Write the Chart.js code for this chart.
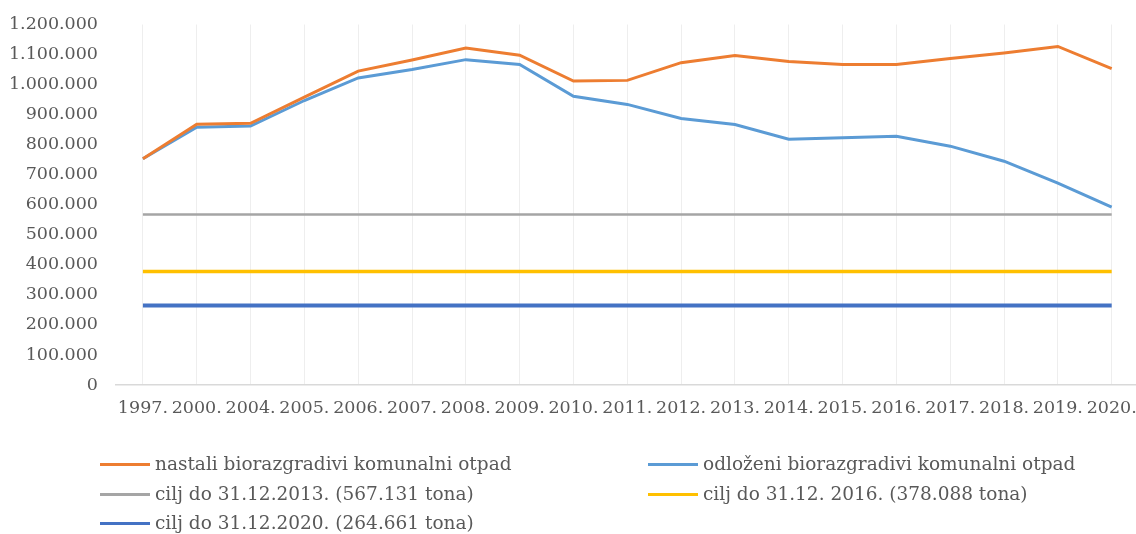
<!DOCTYPE html>
<html>
<head>
<meta charset="utf-8">
<script src="https://cdn.jsdelivr.net/npm/chart.js@4/dist/chart.umd.min.js"></script>
<style>
  body { margin: 0; background: #fff; overflow: hidden; width: 1136px; height: 534px; position: relative; }
  #wrap { position: absolute; left: 0; top: 4px; width: 1150px; height: 440px; }
  #legend { position: absolute; left: 0; top: 0; width: 1136px; height: 534px; pointer-events: none;
    font-family: "DejaVu Serif", serif; font-size: 18.5px; color: #595959; }
  .item { position: absolute; height: 22px; line-height: 22px; white-space: nowrap; }
  .item span.sw { position: absolute; left: 0; top: 10px; width: 50px; height: 3px; }
  .item span.tx { position: absolute; left: 55px; top: 0; }
</style>
</head>
<body>
<div id="wrap"><canvas id="myChart" width="1150" height="440"></canvas></div>
<div id="legend"></div>
<script>
var years = ['1997.', '2000.', '2004.', '2005.', '2006.', '2007.', '2008.', '2009.', '2010.', '2011.',
  '2012.', '2013.', '2014.', '2015.', '2016.', '2017.', '2018.', '2019.', '2020.'];

// nastali biorazgradivi komunalni otpad (tona)
var nastali = [753000, 868000, 871000, 958000, 1045000, 1082000, 1122000, 1098000, 1012000, 1014000,
  1073000, 1097000, 1077000, 1067000, 1067000, 1087000, 1105000, 1127000, 1053000];
// odlozeni biorazgradivi komunalni otpad (tona)
var odlozeni = [753000, 858000, 862000, 947000, 1022000, 1050000, 1083000, 1067000, 961000, 934000,
  887000, 867000, 818000, 823000, 828000, 795000, 745000, 672000, 592000];

// ciljevi
var cilj2013 = [567131, 567131, 567131, 567131, 567131, 567131, 567131, 567131, 567131, 567131,
  567131, 567131, 567131, 567131, 567131, 567131, 567131, 567131, 567131];
var cilj2016 = [378088, 378088, 378088, 378088, 378088, 378088, 378088, 378088, 378088, 378088,
  378088, 378088, 378088, 378088, 378088, 378088, 378088, 378088, 378088];
var cilj2020 = [264661, 264661, 264661, 264661, 264661, 264661, 264661, 264661, 264661, 264661,
  264661, 264661, 264661, 264661, 264661, 264661, 264661, 264661, 264661];

var seriesNames = ['nastali biorazgradivi komunalni otpad', 'odloženi biorazgradivi komunalni otpad',
  'cilj do 31.12.2013. (567.131 tona)', 'cilj do 31.12. 2016. (378.088 tona)', 'cilj do 31.12.2020. (264.661 tona)'];
var colors = ['#ED7D31', '#5B9BD5', '#A5A5A5', '#FFC000', '#4472C4'];
var widths = [3, 3, 2.5, 3.5, 4];

var yFont = { family: '"DejaVu Serif", serif', size: 17.5 };
var xFont = { family: '"DejaVu Serif", serif', size: 17.5 };

function fmt(v) {
  return v.toString().replace(/\B(?=(\d{3})+(?!\d))/g, '.');
}

var allData = [nastali, odlozeni, cilj2013, cilj2016, cilj2020];
var ds = allData.map(function (d, i) {
  return {
    label: seriesNames[i],
    data: d,
    borderColor: colors[i],
    backgroundColor: colors[i],
    borderWidth: widths[i],
    pointRadius: 0,
    tension: 0,
    fill: false
  };
});

var ctx = document.getElementById('myChart');
var myChart = new Chart(ctx, {
  type: 'line',
  data: { labels: years, datasets: ds },
  options: {
    responsive: false,
    maintainAspectRatio: false,
    animation: false,
    layout: { padding: { top: 19, right: 10, left: 0, bottom: 0 } },
    plugins: { legend: { display: false }, tooltip: { enabled: false } },
    scales: {
      x: {
        offset: true,
        grid: { display: true, offset: false, color: '#EEEEEE', lineWidth: 1, drawTicks: false },
        border: { display: true, color: '#D9D9D9', width: 1.5 },
        ticks: { color: '#595959', font: xFont, autoSkip: false, maxRotation: 0, minRotation: 0, padding: 13 },
        afterFit: function (scale) { scale.height = 59; }
      },
      y: {
        min: 0,
        max: 1200000,
        grid: { display: false },
        border: { display: false },
        ticks: { stepSize: 100000, color: '#595959', font: yFont, padding: 10,
          callback: function (v) { return fmt(v); } },
        afterFit: function (scale) { scale.width = 116; }
      }
    }
  }
});

// legend in two columns like the original
var legendPos = [[100, 453], [648, 453], [100, 483], [648, 483], [100, 512]];
var lg = document.getElementById('legend');
seriesNames.forEach(function (name, i) {
  var it = document.createElement('div');
  it.className = 'item';
  it.style.left = legendPos[i][0] + 'px';
  it.style.top = legendPos[i][1] + 'px';
  it.innerHTML = '<span class="sw" style="background:' + colors[i] + '"></span><span class="tx">' + name + '</span>';
  lg.appendChild(it);
});
</script>
</body>
</html>
